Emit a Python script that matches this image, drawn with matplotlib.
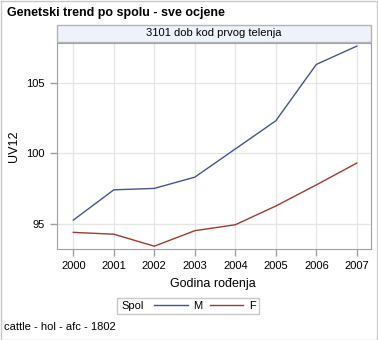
import matplotlib
matplotlib.use("Agg")
import matplotlib.pyplot as plt
from matplotlib.patches import Rectangle
from matplotlib.lines import Line2D

plt.rcParams['font.family'] = ['Liberation Sans', 'DejaVu Sans']

years = [2000, 2001, 2002, 2003, 2004, 2005, 2006, 2007]
uv_m = [95.25, 97.4, 97.5, 98.3, 100.3, 102.3, 106.3, 107.6]
uv_f = [94.38, 94.25, 93.4, 94.5, 94.92, 96.25, 97.75, 99.3]
yticks = [95, 100, 105]

W, H = 378, 340
fig = plt.figure(figsize=(W / 100, H / 100), dpi=100)

def fx(px):
    return px / W

def fy(py):
    return 1 - py / H

# outer frame
fig.patches.append(Rectangle((0.5 / W, 0.5 / H), 1 - 1.5 / W, 1 - 1.5 / H,
                             transform=fig.transFigure, fill=False,
                             edgecolor='#c8c8c8', lw=1))

ax_l, ax_r, ax_t, ax_b = 56.7, 371, 43, 249
ax = fig.add_axes([fx(ax_l), fy(ax_b), fx(ax_r - ax_l), fy(ax_t) - fy(ax_b)])

# panel header
fig.patches.append(Rectangle((fx(ax_l), fy(42)), fx(ax_r - ax_l), fy(25) - fy(42),
                             transform=fig.transFigure, facecolor='#eef2fa',
                             edgecolor='#b4b4b4', lw=1))
fig.text(fx((ax_l + ax_r) / 2), fy(33.5), '3101 dob kod prvog telenja',
         ha='center', va='center', fontsize=8, color='black')

ax.plot(years, uv_m, color='#445694', lw=1, label='M')
ax.plot(years, uv_f, color='#a23a2e', lw=1, label='F')

ax.set_xlim(1999.59, 2007.35)
ax.set_ylim(93.2, 107.82)
ax.set_xticks(years)
ax.set_yticks(yticks)
ax.grid(True, color='#e6e6e6', lw=1)
ax.set_axisbelow(True)
for s in ax.spines.values():
    s.set_color('#a0a0a0')
ax.tick_params(colors='#a0a0a0', labelcolor='black', labelsize=8, length=5, width=1)

fig.text(fx(213), fy(284), 'Godina rođenja', ha='center', va='center', fontsize=9)
fig.text(fx(14), fy(146), 'UV12', ha='center', va='center', fontsize=9, rotation=90)

fig.text(fx(7), fy(13), 'Genetski trend po spolu - sve ocjene', ha='left', va='center',
         fontsize=9, fontweight='bold')

# legend
fig.patches.append(Rectangle((fx(117), fy(314)), fx(142), fy(298) - fy(314),
                             transform=fig.transFigure, fill=False,
                             edgecolor='#c8c8c8', lw=1))
fig.text(fx(121), fy(306), 'Spol', ha='left', va='center', fontsize=8)
h = [Line2D([], [], color='#445694', lw=1), Line2D([], [], color='#a23a2e', lw=1)]
fig.legend(h, ['M', 'F'], loc='center', bbox_to_anchor=(fx(205), fy(306)), ncol=2,
           frameon=False, fontsize=8, handlelength=3.0, handletextpad=0.5,
           columnspacing=0.7, borderpad=0)

fig.text(fx(4), fy(327), 'cattle - hol - afc - 1802', ha='left', va='center', fontsize=8)

fig.savefig('out.png', dpi=100)
